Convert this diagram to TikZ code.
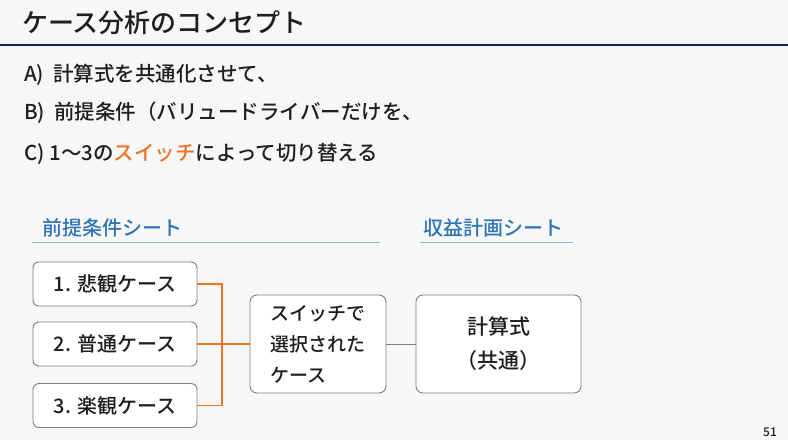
\documentclass[tikz,border=0pt]{standalone}
\usepackage{fontspec}
\setmainfont{Noto Sans CJK JP}[UprightFont=* Medium]
\usepackage{xcolor}
\usetikzlibrary{positioning, calc}

\definecolor{navyline}{HTML}{1B1F5E}
\definecolor{headblue}{HTML}{2E75B6}
\definecolor{ruleblue}{HTML}{8DB8DD}
\definecolor{sworange}{HTML}{EE7326}
\definecolor{boxgrey}{HTML}{7F7F7F}
\definecolor{txtgrey}{HTML}{1E1E1E}

\begin{document}
\begin{tikzpicture}[
    x=1pt, y=-1pt,
    every node/.style={text=txtgrey, inner sep=0pt},
    caseBox/.style={draw=boxgrey, line width=0.9pt, rounded corners=6pt, fill=white,
                minimum width=164pt, minimum height=44pt, font=\fontsize{20}{24}\selectfont},
    bigBox/.style={draw=boxgrey, line width=0.9pt, rounded corners=7pt, fill=white,
                minimum height=98pt},
    bullet/.style={anchor=west, font=\fontsize{20.5}{24}\selectfont},
    sheet/.style={anchor=west, text=headblue, font=\fontsize{20}{24}\selectfont},
    link/.style={draw=sworange, line width=1.3pt},
]
    % page background
    \fill[white!97!black] (0,0) rectangle (788,440);
    \useasboundingbox (0,0) rectangle (788,440);

    % Title
    \node[anchor=west, font=\fontsize{26}{30}\selectfont] (title) at (22,23) {ケース分析のコンセプト};
    \draw[navyline, line width=2.6pt] (0,45) -- (788,45);

    % Bullets
    \node[bullet] (ptA) at (24,75)  {A)\ \ 計算式を共通化させて、};
    \node[bullet] (ptB) at (24,113) {B)\ \ 前提条件（バリュードライバーだけを、};
    \node[bullet] (ptC) at (24,154) {C)\ 1～3の\textcolor{sworange}{スイッチ}によって切り替える};

    % Sheet headings
    \node[sheet] (shA) at (42,228)  {前提条件シート};
    \node[sheet] (shB) at (423,228) {収益計画シート};
    \draw[ruleblue, line width=1pt] (32,242) -- (380,242);
    \draw[ruleblue, line width=1pt] (420,242) -- (573,242);

    % Case boxes (left column)
    \node[caseBox] (C1) at (115,284)   {1. 悲観ケース};
    \node[caseBox] (C2) at (115,344)   {2. 普通ケース};
    \node[caseBox] (C3) at (115,405.5) {3. 楽観ケース};

    % Switch and formula
    \node[bigBox, minimum width=136pt, align=left, font=\fontsize{19}{31}\selectfont]
        (SW) at (318,344) {スイッチで\\選択された\\ケース};
    \node[bigBox, minimum width=165pt, align=center, font=\fontsize{21}{34}\selectfont]
        (CALC) at (498.5,344) {計算式\\（共通）};

    % Connectors
    \coordinate (bus) at (222,344);
    \draw[link] (C1.east) -| (bus);
    \draw[link] (C3.east) -| (bus);
    \draw[link] (C2.east) -- (SW.west);
    \draw[boxgrey, line width=0.9pt] (SW.east) -- (CALC.west);

    % Page number
    \node[font=\fontsize{12}{14}\selectfont] (pg) at (770,432) {51};
\end{tikzpicture}
\end{document}
